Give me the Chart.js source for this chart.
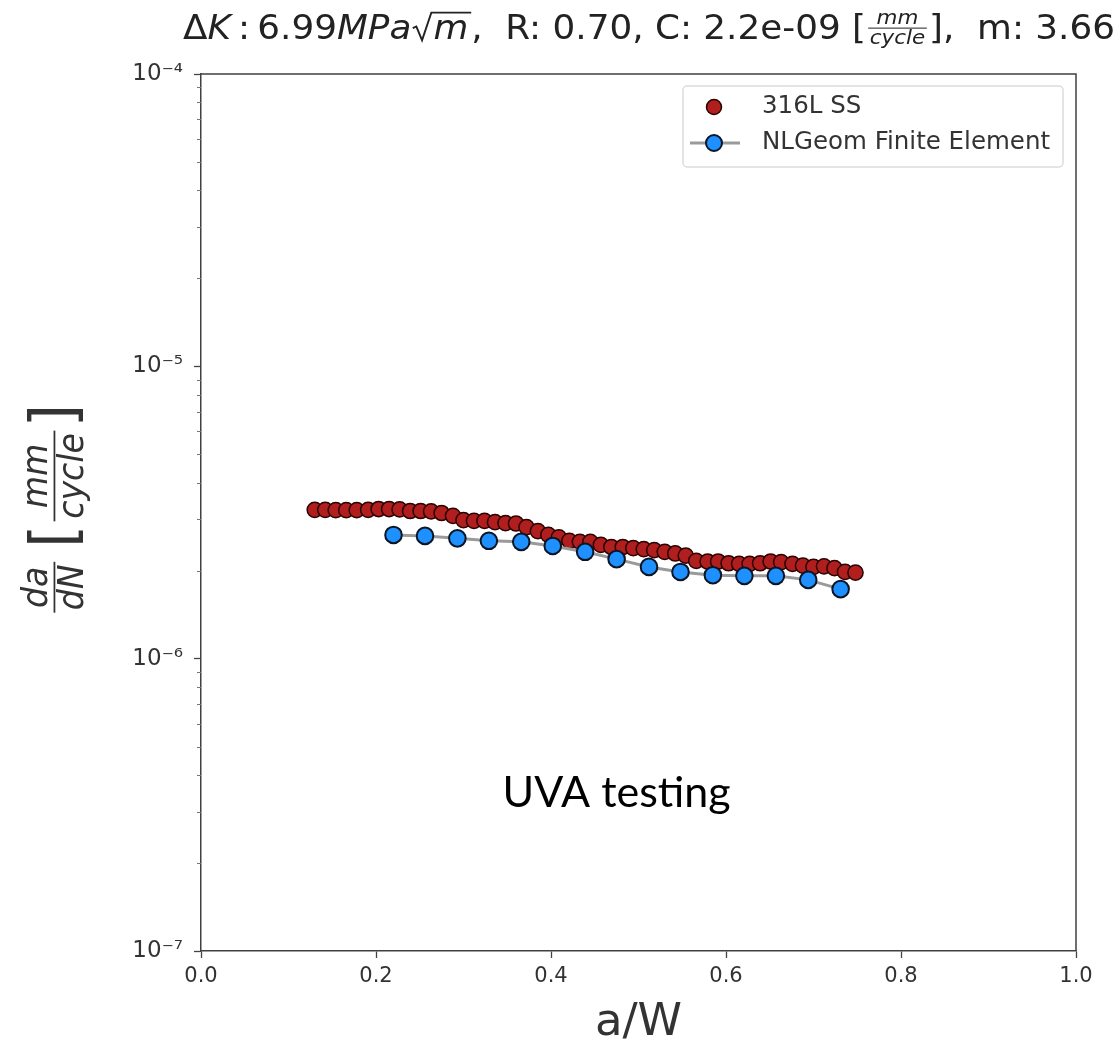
<!DOCTYPE html>
<html>
<head>
<meta charset="utf-8">
<script src="https://cdn.jsdelivr.net/npm/chart.js@4.4.1/dist/chart.umd.min.js"></script>
<style>
    html, body { margin: 0; padding: 0; background: #fff; }
    #wrap { width: 1120px; height: 1050px; }
</style>
</head>
<body>
<div id="wrap"><canvas id="crackChart" width="1120" height="1050"></canvas></div>
<script>
// 316L SS test data (a/W, da/dN in mm/cycle)
const ssCrack = [0.130, 0.142, 0.154, 0.166, 0.178, 0.191, 0.203, 0.215, 0.227, 0.239,
    0.251, 0.263, 0.275, 0.288, 0.300, 0.312, 0.324, 0.336, 0.348, 0.360,
    0.372, 0.385, 0.397, 0.409, 0.421, 0.433, 0.445, 0.457, 0.469, 0.482,
    0.494, 0.506, 0.518, 0.530, 0.542, 0.554, 0.566, 0.579, 0.591, 0.603,
    0.615, 0.627, 0.639, 0.651, 0.663, 0.676, 0.688, 0.700, 0.712, 0.724,
    0.736, 0.748];
const ssRate = [3.23e-6, 3.23e-6, 3.22e-6, 3.22e-6, 3.22e-6, 3.23e-6, 3.25e-6, 3.25e-6, 3.24e-6, 3.20e-6,
    3.20e-6, 3.19e-6, 3.15e-6, 3.08e-6, 2.98e-6, 2.96e-6, 2.96e-6, 2.93e-6, 2.91e-6, 2.90e-6,
    2.82e-6, 2.73e-6, 2.65e-6, 2.60e-6, 2.53e-6, 2.51e-6, 2.51e-6, 2.45e-6, 2.41e-6, 2.41e-6,
    2.39e-6, 2.37e-6, 2.35e-6, 2.32e-6, 2.29e-6, 2.25e-6, 2.16e-6, 2.15e-6, 2.15e-6, 2.12e-6,
    2.11e-6, 2.11e-6, 2.12e-6, 2.15e-6, 2.14e-6, 2.11e-6, 2.08e-6, 2.06e-6, 2.07e-6, 2.04e-6,
    1.98e-6, 1.97e-6];

// NLGeom finite element prediction
const feCrack = [0.220, 0.256, 0.293, 0.329, 0.366, 0.402, 0.439, 0.475, 0.512, 0.548,
    0.585, 0.621, 0.657, 0.694, 0.731];
const feRate = [2.65e-6, 2.63e-6, 2.58e-6, 2.53e-6, 2.51e-6, 2.43e-6, 2.32e-6, 2.19e-6, 2.06e-6, 1.98e-6,
    1.93e-6, 1.92e-6, 1.92e-6, 1.86e-6, 1.73e-6];

const xTicks = [0, 0.2, 0.4, 0.6, 0.8, 1.0];
const yMajorTicks = [1e-7, 1e-6, 1e-5, 1e-4];
const yMinorTicks = [2e-7, 3e-7, 4e-7, 5e-7, 6e-7, 7e-7, 8e-7, 9e-7,
    2e-6, 3e-6, 4e-6, 5e-6, 6e-6, 7e-6, 8e-6, 9e-6,
    2e-5, 3e-5, 4e-5, 5e-5, 6e-5, 7e-5, 8e-5, 9e-5];

const supDigits = { '-': '⁻', '0': '⁰', '1': '¹', '2': '²', '3': '³', '4': '⁴', '5': '⁵', '6': '⁶', '7': '⁷', '8': '⁸', '9': '⁹' };
const mathFont = "'DejaVu Sans', sans-serif";

// --- small mathtext-ish renderer for title / y label ---
function setFont(ctx, size, it) {
    ctx.font = (it ? 'italic ' : '') + size + 'px ' + mathFont;
}

function partWidth(ctx, p, size) {
    if (p.frac) {
        const fs = size * p.k;
        setFont(ctx, fs, true);
        return Math.max(ctx.measureText(p.frac[0]).width, ctx.measureText(p.frac[1]).width) + fs * 0.35;
    }
    if (p.sqrt) {
        setFont(ctx, size, true);
        return size * 0.62 + ctx.measureText(p.sqrt).width + size * 0.08;
    }
    if (p.big) {
        setFont(ctx, size * p.k, false);
        return ctx.measureText(p.big).width;
    }
    setFont(ctx, size, p.it);
    return ctx.measureText(p.t).width;
}

function drawPart(ctx, p, x, y, size) {
    const w = partWidth(ctx, p, size);
    if (p.frac) {
        const fs = size * p.k;
        const axis = y - size * 0.33;
        setFont(ctx, fs, true);
        ctx.textAlign = 'center';
        ctx.fillText(p.frac[0], x + w / 2, axis - fs * 0.2);
        ctx.fillText(p.frac[1], x + w / 2, axis + fs * 0.82);
        ctx.fillRect(x + fs * 0.1, axis - fs * 0.025, w - fs * 0.2, Math.max(1, fs * 0.05));
        ctx.textAlign = 'left';
    } else if (p.sqrt) {
        const top = y - size * 0.8;
        ctx.beginPath();
        ctx.moveTo(x + size * 0.04, y - size * 0.33);
        ctx.lineTo(x + size * 0.14, y - size * 0.38);
        ctx.lineTo(x + size * 0.3, y + size * 0.04);
        ctx.lineTo(x + size * 0.56, top);
        ctx.lineTo(x + w, top);
        ctx.lineWidth = size * 0.055;
        ctx.stroke();
        setFont(ctx, size, true);
        ctx.fillText(p.sqrt, x + size * 0.62, y);
    } else if (p.big) {
        const bs = size * p.k;
        setFont(ctx, bs, false);
        ctx.fillText(p.big, x, y - size * 0.33 + bs * 0.31);
    } else {
        setFont(ctx, size, p.it);
        ctx.fillText(p.t, x, y);
    }
    return w;
}

// draws parts centred on (cx, cy baseline), squeezed/stretched to targetW
function drawMath(ctx, parts, size, cx, cy, targetW, angle, color) {
    let total = 0;
    parts.forEach(p => { total += partWidth(ctx, p, size); });
    ctx.save();
    ctx.translate(cx, cy);
    ctx.rotate(angle);
    ctx.scale(targetW / total, 1);
    ctx.fillStyle = color;
    ctx.strokeStyle = color;
    ctx.textBaseline = 'alphabetic';
    ctx.textAlign = 'left';
    let x = -total / 2;
    parts.forEach(p => { x += drawPart(ctx, p, x, 0, size); });
    ctx.restore();
}

const titleParts = [
    { t: 'Δ' }, { t: 'K', it: true }, { t: '\u2009:\u20096.99' }, { t: 'MPa', it: true }, { sqrt: 'm' },
    { t: ',  R: 0.70, C: 2.2e-09 [' }, { frac: ['mm', 'cycle'], k: 0.6 }, { t: '],  m: 3.66' }
];
const yLabelParts = [
    { frac: ['da', 'dN'], k: 1 }, { t: ' ' }, { big: '[', k: 1.8 }, { frac: ['mm', 'cycle'], k: 1 }, { big: ']', k: 1.8 }
];

const extrasPlugin = {
    id: 'extras',
    afterDraw(chart) {
        const { ctx, chartArea: area, scales } = chart;
        ctx.save();

        // top / right spines
        ctx.strokeStyle = '#404040';
        ctx.lineWidth = 1.5;
        ctx.beginPath();
        ctx.moveTo(area.left, area.top);
        ctx.lineTo(area.right, area.top);
        ctx.lineTo(area.right, area.bottom);
        ctx.stroke();

        // minor log ticks on y
        ctx.strokeStyle = '#777';
        ctx.lineWidth = 1;
        yMinorTicks.forEach(v => {
            const py = Math.round(scales.y.getPixelForValue(v)) + 0.5;
            ctx.beginPath();
            ctx.moveTo(area.left - 4, py);
            ctx.lineTo(area.left, py);
            ctx.stroke();
        });

        // legend box
        const lx = area.right - 393, ly = area.top + 12, lw = 380, lh = 81;
        ctx.fillStyle = 'rgba(255,255,255,0.85)';
        ctx.strokeStyle = '#dcdcdc';
        ctx.lineWidth = 1.5;
        ctx.beginPath();
        ctx.roundRect(lx, ly, lw, lh, 4);
        ctx.fill();
        ctx.stroke();

        const ds = chart.data.datasets;
        const rows = [ly + 21, ly + 57];
        // row 1: red marker only
        ctx.beginPath();
        ctx.arc(lx + 31, rows[0], 7.5, 0, Math.PI * 2);
        ctx.fillStyle = ds[1].pointBackgroundColor;
        ctx.fill();
        ctx.strokeStyle = ds[1].pointBorderColor;
        ctx.lineWidth = ds[1].pointBorderWidth;
        ctx.stroke();
        // row 2: grey line with blue marker
        ctx.strokeStyle = ds[0].borderColor;
        ctx.lineWidth = ds[0].borderWidth;
        ctx.beginPath();
        ctx.moveTo(lx + 7, rows[1]);
        ctx.lineTo(lx + 57, rows[1]);
        ctx.stroke();
        ctx.beginPath();
        ctx.arc(lx + 31, rows[1], 8, 0, Math.PI * 2);
        ctx.fillStyle = ds[0].pointBackgroundColor;
        ctx.fill();
        ctx.strokeStyle = ds[0].pointBorderColor;
        ctx.lineWidth = ds[0].pointBorderWidth;
        ctx.stroke();

        ctx.fillStyle = '#333';
        ctx.font = '24.5px ' + mathFont;
        ctx.textBaseline = 'middle';
        ctx.textAlign = 'left';
        ctx.fillText(ds[1].label, lx + 79, rows[0]);
        ctx.fillText(ds[0].label, lx + 79, rows[1]);

        // annotation
        ctx.fillStyle = '#000';
        ctx.font = '43px Lato, "Open Sans", sans-serif';
        ctx.textAlign = 'center';
        ctx.textBaseline = 'alphabetic';
        ctx.fillText('UVA testing', scales.x.getPixelForValue(0.475), scales.y.getPixelForValue(3.1e-7));
        ctx.restore();

        // title and y axis label
        drawMath(ctx, titleParts, 33, 649, 39, 932, 0, '#222');
        drawMath(ctx, yLabelParts, 35, 66, 510, 212, -Math.PI / 2, '#333');
    }
};

const ctx = document.getElementById('crackChart').getContext('2d');
const crackChart = new Chart(ctx, {
    type: 'scatter',
    data: {
        datasets: [
            {
                label: 'NLGeom Finite Element',
                data: feCrack.map((x, i) => ({ x: x, y: feRate[i] })),
                showLine: true,
                borderColor: '#9a9a9a',
                borderWidth: 3,
                pointBackgroundColor: '#1e90ff',
                pointBorderColor: '#0a1626',
                pointBorderWidth: 2,
                pointRadius: 8.3,
                order: 1
            },
            {
                label: '316L SS',
                data: ssCrack.map((x, i) => ({ x: x, y: ssRate[i] })),
                showLine: false,
                pointBackgroundColor: '#b01e1e',
                pointBorderColor: '#2a0202',
                pointBorderWidth: 1.5,
                pointRadius: 7.6,
                order: 2
            }
        ]
    },
    options: {
        responsive: false,
        animation: false,
        layout: { padding: { top: 74, right: 44, left: 0, bottom: 0 } },
        plugins: {
            legend: { display: false },
            tooltip: { enabled: false }
        },
        scales: {
            x: {
                type: 'linear',
                min: 0,
                max: 1,
                afterBuildTicks: s => { s.ticks = xTicks.map(v => ({ value: v })); },
                afterFit: s => { s.height = 99; },
                ticks: {
                    callback: v => Number(v).toFixed(1),
                    color: '#333',
                    font: { family: mathFont, size: 21 },
                    padding: 6,
                    maxRotation: 0
                },
                grid: { drawOnChartArea: false, tickLength: 7, tickColor: '#444', tickWidth: 1.3 },
                border: { color: '#404040', width: 1.5 },
                title: {
                    display: true,
                    text: 'a/W',
                    color: '#333',
                    font: { family: mathFont, size: 45 },
                    padding: { top: 0, bottom: 0 }
                }
            },
            y: {
                type: 'logarithmic',
                min: 1e-7,
                max: 1e-4,
                afterBuildTicks: s => { s.ticks = yMajorTicks.map(v => ({ value: v })); },
                afterFit: s => { s.width = 201; },
                ticks: {
                    callback: v => '10' + String(Math.round(Math.log10(v))).split('').map(c => supDigits[c]).join(''),
                    color: '#333',
                    font: { family: mathFont, size: 23 },
                    padding: 11
                },
                grid: { drawOnChartArea: false, tickLength: 7, tickColor: '#444', tickWidth: 1.3 },
                border: { color: '#404040', width: 1.5 }
            }
        }
    },
    plugins: [extrasPlugin]
});
</script>
</body>
</html>
